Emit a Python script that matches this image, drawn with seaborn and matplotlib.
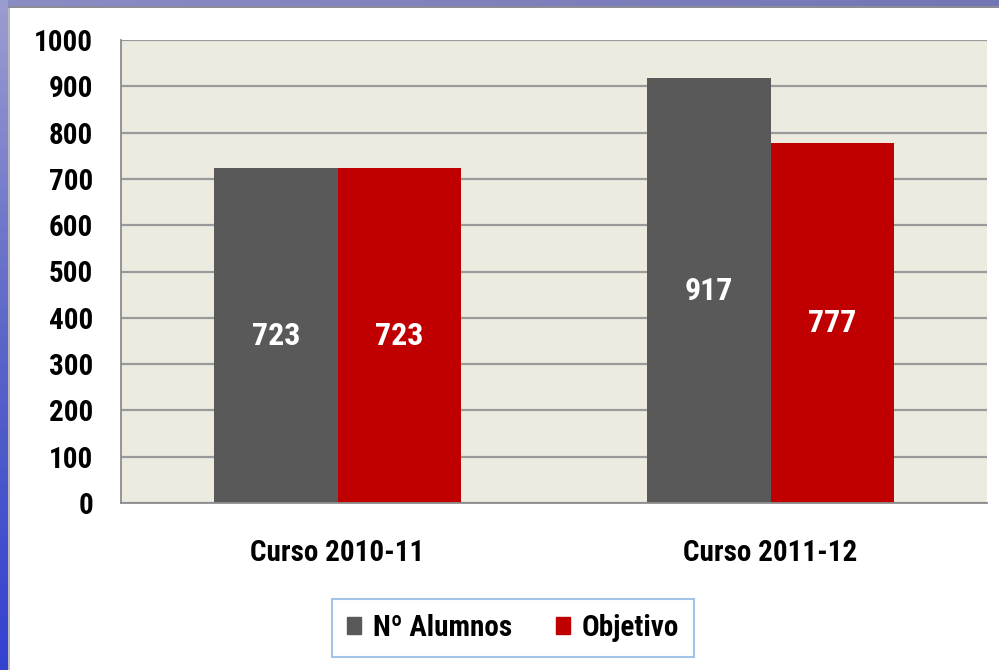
import numpy as np
import pandas as pd
import matplotlib
matplotlib.use("Agg")
import matplotlib.pyplot as plt
from matplotlib.patches import Rectangle
import seaborn as sns

categories = ["Curso 2010-11", "Curso 2011-12"]
series = ["Nº Alumnos", "Objetivo"]
alumnos = [723, 917]
objetivo = [723, 777]
yticks = list(range(0, 1001, 100))

colors = {"Nº Alumnos": "#595959", "Objetivo": "#C00000"}

df = pd.DataFrame({
    "curso": categories * 2,
    "serie": [series[0]] * 2 + [series[1]] * 2,
    "valor": alumnos + objetivo,
})

sns.set_style("white")
plt.rcParams["font.family"] = ["Roboto Condensed", "DejaVu Sans"]
plt.rcParams["font.weight"] = "bold"
plt.rcParams["text.color"] = "black"
plt.rcParams["xtick.color"] = "black"
plt.rcParams["ytick.color"] = "black"

fig = plt.figure(figsize=(9.99, 6.70), dpi=100)
fig.patch.set_facecolor("white")

# blue frame strips of the slide
top = fig.add_axes([0, 1 - 6 / 670, 1, 6 / 670])
top.imshow(np.linspace(0, 1, 50).reshape(1, -1), aspect="auto",
           cmap=matplotlib.colors.LinearSegmentedColormap.from_list("t", ["#8A8CC4", "#7276B4"]))
top.axis("off")
left = fig.add_axes([0, 0, 8 / 999, 1])
left.imshow(np.linspace(0, 1, 50).reshape(-1, 1), aspect="auto",
            cmap=matplotlib.colors.LinearSegmentedColormap.from_list("l", ["#9A9CCF", "#5C66C8", "#3442D0"]))
left.axis("off")
fig.add_artist(Rectangle((8 / 999, 0), 1.5 / 999, 1 - 6 / 670, transform=fig.transFigure,
                         color="#B8B8C0", lw=0))
fig.add_artist(Rectangle((8 / 999, 1 - 7.5 / 670), 1, 1.5 / 670, transform=fig.transFigure,
                         color="#8C8C96", lw=0))

ax = fig.add_axes([121 / 999, 1 - 503 / 670, (987 - 121) / 999, (503 - 40) / 670])
ax.set_facecolor("#EDEAE0")

sns.barplot(data=df, x="curso", y="valor", hue="serie", palette=colors,
            width=0.57, gap=0, saturation=1, ax=ax, legend=True,
            linewidth=0, edgecolor="none")

for cont in ax.containers:
    ax.bar_label(cont, label_type="center", color="white", fontsize=23,
                 fontweight="bold")

ax.set_ylim(0, 1000)
ax.set_yticks(yticks)
ax.yaxis.grid(True, color="#9A9A9A", lw=1.6)
ax.set_axisbelow(True)
ax.set_xlim(-0.5, 1.5)
ax.set_xticks([-0.5, 0.5, 1.5], minor=True)
ax.tick_params(axis="x", which="minor", length=9, width=1.3, color="#8C8C8C", direction="out")
ax.tick_params(axis="x", which="major", length=0, pad=26, labelsize=21)
ax.tick_params(axis="y", length=9, width=1.3, color="#8C8C8C", direction="out",
               pad=11, labelsize=21)
ax.set_xlabel("")
ax.set_ylabel("")
for s in ["top", "right"]:
    ax.spines[s].set_visible(False)
for s in ["left", "bottom"]:
    ax.spines[s].set_color("#8C8C8C")
    ax.spines[s].set_linewidth(1.3)

ax.get_legend().remove()
handles = [Rectangle((0, 0), 1, 1, color=colors[s]) for s in series]
leg = fig.legend(handles, series, loc="center", bbox_to_anchor=(513 / 999, 1 - 628 / 670),
                 ncol=2, fontsize=21, frameon=True, fancybox=False,
                 handlelength=0.5, handleheight=0.55, handletextpad=0.4,
                 columnspacing=1.5, borderpad=0.5, borderaxespad=0)
leg.get_frame().set_edgecolor("#8EB4E3")
leg.get_frame().set_linewidth(1.5)

fig.savefig("out.png", dpi=100)
